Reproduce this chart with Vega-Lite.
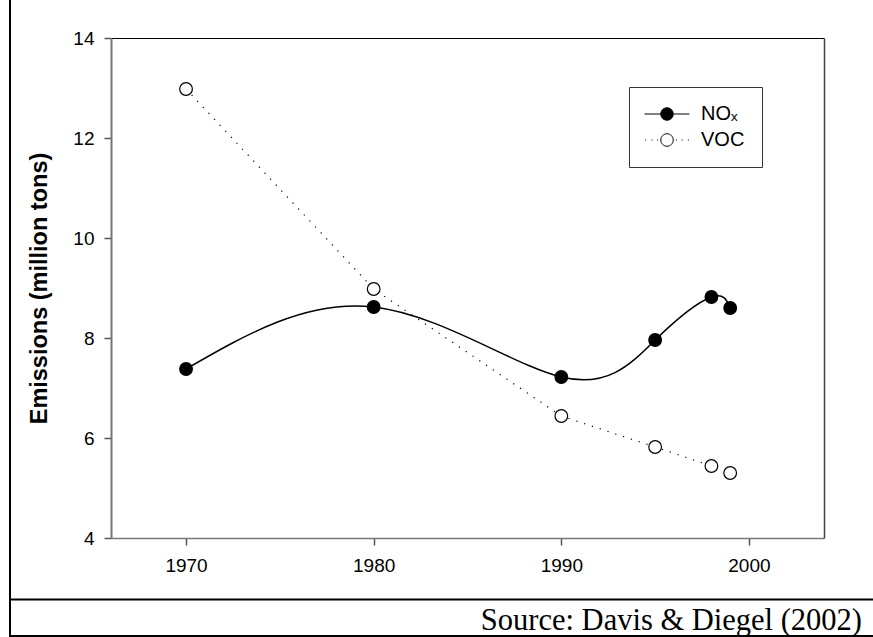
{
  "$schema": "https://vega.github.io/schema/vega-lite/v6.json",
  "autosize": {"type": "none"},
  "padding": {"left": 10, "top": 0, "right": 0, "bottom": 1},
  "width": 863,
  "height": 636,
  "background": "white",
  "view": {"stroke": "black", "strokeWidth": 2, "strokeDash": [0, 1499, 1499]},
  "config": {
    "axis": {"grid": false, "labelFont": "Liberation Sans", "labelFontSize": 19, "labelColor": "black", "titleFont": "Liberation Sans", "titleColor": "black"},
    "legend": {"labelFont": "Liberation Sans", "labelFontSize": 20, "labelColor": "black"}
  },
  "datasets": {
    "emissions": [
      {"year": 1970, "value": 7.38, "series": "NOx"},
      {"year": 1980, "value": 8.62, "series": "NOx"},
      {"year": 1990, "value": 7.22, "series": "NOx"},
      {"year": 1995, "value": 7.96, "series": "NOx"},
      {"year": 1998, "value": 8.82, "series": "NOx"},
      {"year": 1999, "value": 8.6, "series": "NOx"},
      {"year": 1970, "value": 12.98, "series": "VOC"},
      {"year": 1980, "value": 8.98, "series": "VOC"},
      {"year": 1990, "value": 6.44, "series": "VOC"},
      {"year": 1995, "value": 5.82, "series": "VOC"},
      {"year": 1998, "value": 5.44, "series": "VOC"},
      {"year": 1999, "value": 5.3, "series": "VOC"}
    ],
    "note": [{"source": "Source: Davis & Diegel (2002)"}]
  },
  "data": {"name": "emissions"},
  "resolve": {"scale": {"x": "independent"}, "axis": {"x": "independent", "y": "independent"}},
  "layer": [
    {
      "transform": [{"filter": "datum.series === 'NOx'"}],
      "mark": {"type": "line", "interpolate": "natural", "color": "black", "strokeWidth": 1.5},
      "encoding": {
        "x": {"field": "year", "type": "quantitative",
          "scale": {"domain": [1966, 2004], "range": [101, 814], "nice": false, "zero": false},
          "axis": {"orient": "bottom", "offset": -98, "values": [1970, 1980, 1990, 2000], "format": "d", "title": null,
            "domainColor": "#777", "domainWidth": 1.5, "tickColor": "#555", "tickWidth": 1.5, "tickSize": 7, "labelPadding": 11, "labelFlush": false}},
        "y": {"field": "value", "type": "quantitative",
          "scale": {"domain": [4, 14], "range": [538, 38], "nice": false, "zero": false},
          "axis": {"orient": "left", "offset": -101, "values": [4, 6, 8, 10, 12, 14], "title": "Emissions (million tons)",
            "titleFontSize": 23.5, "titleFontWeight": "bold", "titlePadding": 21,
            "domainColor": "#777", "domainWidth": 2, "tickColor": "#555", "tickWidth": 1.5, "tickSize": 7, "labelPadding": 10, "labelFlush": false}}
      }
    },
    {
      "transform": [{"filter": "datum.series === 'VOC'"}],
      "mark": {"type": "line", "interpolate": "linear", "color": "black", "strokeWidth": 1.2, "strokeDash": [1.2, 7]},
      "encoding": {
        "x": {"field": "year", "type": "quantitative",
          "scale": {"domain": [1966, 2004], "range": [101, 814], "nice": false, "zero": false}, "axis": null},
        "y": {"field": "value", "type": "quantitative", "axis": null}
      }
    },
    {
      "mark": {"type": "point", "shape": "circle", "filled": true, "stroke": "black", "strokeWidth": 1.2, "size": 160, "opacity": 1},
      "encoding": {
        "x": {"field": "year", "type": "quantitative",
          "scale": {"domain": [1966, 2004], "range": [101, 814], "nice": false, "zero": false},
          "axis": {"orient": "top", "offset": -38, "labels": false, "ticks": false, "title": null, "domainColor": "black", "domainWidth": 1}},
        "y": {"field": "value", "type": "quantitative",
          "axis": {"orient": "right", "offset": -49, "labels": false, "ticks": false, "title": null, "domainColor": "#444", "domainWidth": 1.5}},
        "fill": {"field": "series", "type": "nominal",
          "scale": {"domain": ["NOx", "VOC"], "range": ["black", "white"]},
          "legend": {"title": null, "labelExpr": "datum.label === 'NOx' ? 'NOₓ' : datum.label",
            "orient": "none", "legendX": 619, "legendY": 87, "padding": 17, "rowPadding": 6, "strokeColor": "#333",
            "symbolSize": 156, "symbolStrokeColor": "black", "symbolStrokeWidth": 1, "symbolOpacity": 1,
            "symbolOffset": 11, "labelOffset": 24}}
      }
    },
    {
      "transform": [{"filter": "false"}],
      "mark": {"type": "point", "filled": true, "strokeWidth": 1, "size": 156, "opacity": 1},
      "encoding": {
        "fill": {"field": "series", "type": "nominal",
          "scale": {"domain": ["NOx", "VOC"], "range": ["black", "white"]},
          "legend": {"title": null, "labelExpr": "datum.label === 'NOx' ? 'NOₓ' : datum.label",
            "orient": "none", "legendX": 619, "legendY": 87, "padding": 17, "rowPadding": 6, "strokeColor": "#333",
            "symbolSize": 156, "symbolStrokeWidth": 1, "symbolOpacity": 1,
            "symbolOffset": 11, "labelOffset": 24}},
        "stroke": {"field": "series", "type": "nominal",
          "scale": {"domain": ["NOx", "VOC"], "range": ["black", "black"]},
          "legend": {"title": null, "labelExpr": "datum.label === 'NOx' ? 'NOₓ' : datum.label",
            "orient": "none", "legendX": 619, "legendY": 87, "padding": 17, "rowPadding": 6, "strokeColor": "#333",
            "symbolSize": 156, "symbolStrokeWidth": 1, "symbolOpacity": 1,
            "symbolOffset": 11, "labelOffset": 24}},
        "shape": {"field": "series", "type": "nominal",
          "scale": {"domain": ["NOx", "VOC"], "range": [
            "M-3.6,0H-1M1,0H3.6M1,0A1,1,0,1,1,-1,0A1,1,0,1,1,1,0Z",
            "M-3.5,0H-3.34M-2.5,0H-2.34M-1.6,0H-1.44M1.44,0H1.6M2.34,0H2.5M3.34,0H3.5M1,0A1,1,0,1,1,-1,0A1,1,0,1,1,1,0Z"]},
          "legend": {"title": null, "labelExpr": "datum.label === 'NOx' ? 'NOₓ' : datum.label",
            "orient": "none", "legendX": 619, "legendY": 87, "padding": 17, "rowPadding": 6, "strokeColor": "#333",
            "symbolSize": 156, "symbolStrokeWidth": 1, "symbolOpacity": 1,
            "symbolOffset": 11, "labelOffset": 24}}
      }
    },
    {
      "data": {"name": "note"},
      "mark": {"type": "text", "font": "Liberation Serif", "fontSize": 30.5, "align": "right", "baseline": "alphabetic", "color": "black", "dx": -11, "dy": -6},
      "encoding": {
        "text": {"field": "source", "type": "nominal"},
        "x": {"datum": 1, "type": "quantitative",
          "scale": {"domain": [0, 1], "range": [0, 863], "nice": false, "zero": false},
          "axis": {"orient": "bottom", "offset": -37, "labels": false, "ticks": false, "title": null, "domainColor": "black", "domainWidth": 2}},
        "y": {"value": "height"}
      }
    }
  ]
}
